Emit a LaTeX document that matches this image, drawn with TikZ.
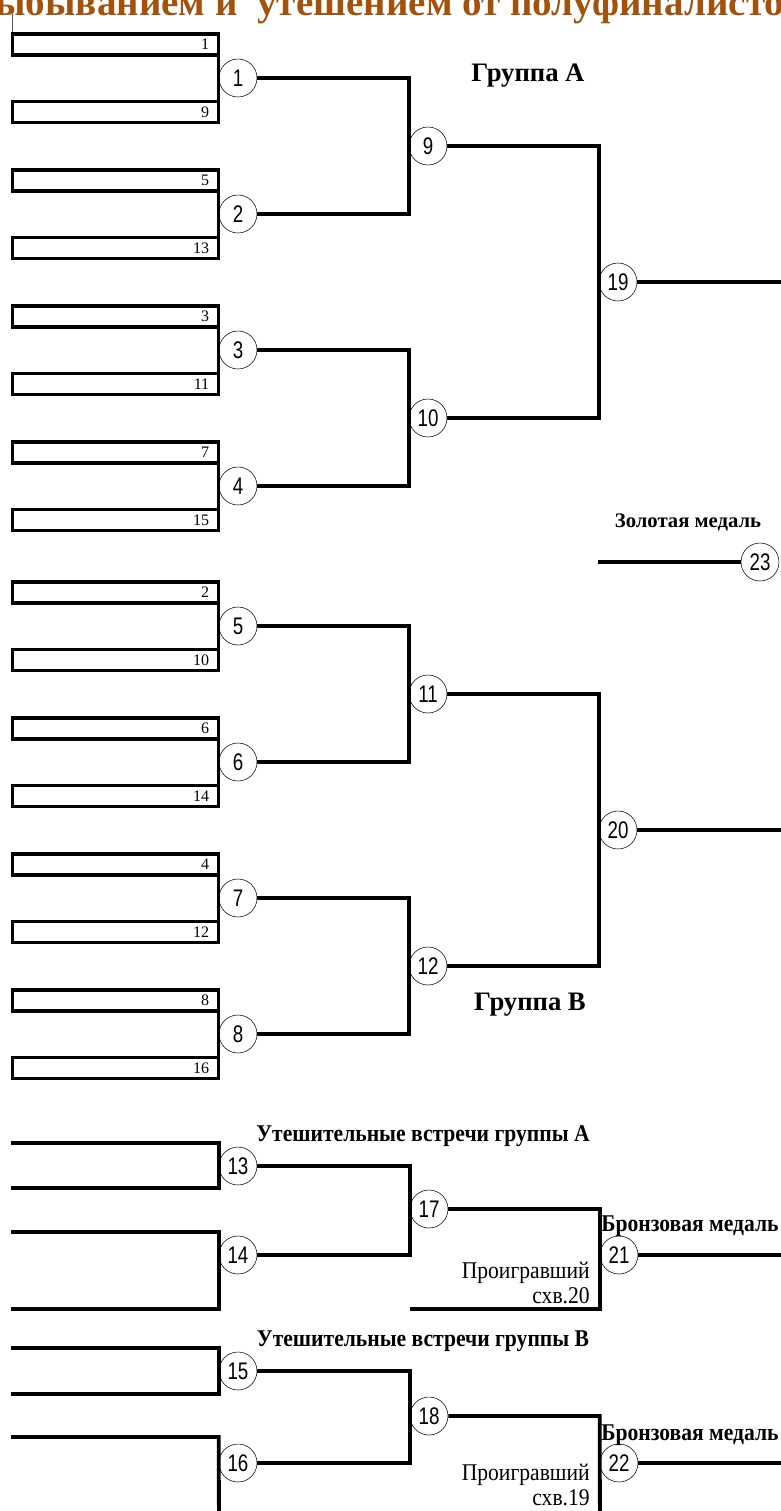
\documentclass[tikz,border=0pt]{standalone}
\usepackage{fontspec}
\setmainfont{Liberation Serif}
\newfontfamily\narrowsans[FakeStretch=0.78]{Liberation Sans}
\newfontfamily\narrowserif[FakeStretch=0.9]{Liberation Serif}
\usetikzlibrary{positioning}
\definecolor{titlebrown}{RGB}{163,82,12}

\begin{document}
\begin{tikzpicture}[x=0.75pt, y=-0.75pt]
		\tikzstyle{Seed}	= [rectangle, draw, line width=2.9pt, outer sep=0pt, minimum height=15.75pt, inner ysep=0pt, inner xsep=7pt, text width=140.5pt, align=right, font=\fontsize{12}{13}\selectfont]
		\tikzstyle{Match}	= [circle, draw, thin, fill=white, minimum size=28.5pt, inner sep=0pt, font=\narrowsans\fontsize{18}{19}\selectfont]
		\tikzstyle{Bar}		= [line width=2.9pt]
		\tikzstyle{Group}	= [font=\bfseries\fontsize{20}{22}\selectfont]
		\tikzstyle{Medal}	= [font=\bfseries\fontsize{15.5}{17}\selectfont]
		\tikzstyle{Caption}	= [font=\narrowserif\bfseries\fontsize{18}{19}\selectfont]
		\tikzstyle{Loser}	= [anchor=base east, inner sep=0pt, font=\narrowserif\fontsize{18}{19}\selectfont]

		\useasboundingbox (0,0) rectangle (781,1511);
		\clip (0,0) rectangle (781,1511);

		\node (title) at (-26, 15) [anchor=base west, inner sep=0pt, text=titlebrown, font=\bfseries\fontsize{29.3}{32}\selectfont] {выбыванием и\ \ утешением от полуфиналистов};

		\node (s1a) at (115.5, 44.5) [Seed] {1};
		\node (s1b) at (115.5, 112) [Seed] {9};
		\node (s2a) at (115.5, 180.5) [Seed] {5};
		\node (s2b) at (115.5, 248) [Seed] {13};
		\node (s3a) at (115.5, 316.5) [Seed] {3};
		\node (s3b) at (115.5, 384) [Seed] {11};
		\node (s4a) at (115.5, 452.5) [Seed] {7};
		\node (s4b) at (115.5, 520) [Seed] {15};
		\node (s5a) at (115.5, 592.5) [Seed] {2};
		\node (s5b) at (115.5, 660) [Seed] {10};
		\node (s6a) at (115.5, 728.5) [Seed] {6};
		\node (s6b) at (115.5, 796) [Seed] {14};
		\node (s7a) at (115.5, 864.5) [Seed] {4};
		\node (s7b) at (115.5, 932) [Seed] {12};
		\node (s8a) at (115.5, 1000.5) [Seed] {8};
		\node (s8b) at (115.5, 1068) [Seed] {16};

		\node (m1) at (238, 78) [Match] {1};
		\node (m2) at (238, 214) [Match] {2};
		\node (m3) at (238, 350) [Match] {3};
		\node (m4) at (238, 486) [Match] {4};
		\node (m5) at (238, 626) [Match] {5};
		\node (m6) at (238, 762) [Match] {6};
		\node (m7) at (238, 898) [Match] {7};
		\node (m8) at (238, 1034) [Match] {8};
		\node (m9) at (428, 146) [Match] {9};
		\node (m10) at (428, 418) [Match] {10};
		\node (m11) at (428, 694) [Match] {11};
		\node (m12) at (428, 966) [Match] {12};
		\node (m19) at (618, 282) [Match] {19};
		\node (m20) at (618, 830) [Match] {20};
		\node (m23) at (760, 562) [Match] {23};

		\node (m13) at (238, 1166) [Match] {13};
		\node (m14) at (238, 1255) [Match] {14};
		\node (m17) at (429, 1209) [Match] {17};
		\node (m21) at (619, 1255) [Match] {21};
		\node (m15) at (238, 1371) [Match] {15};
		\node (m16) at (238, 1463) [Match] {16};
		\node (m18) at (429, 1416) [Match] {18};
		\node (m22) at (619, 1463) [Match] {22};

		\node (ga) at (528, 76) [Group] {Группа А};
		\node (gb) at (530, 1005) [Group] {Группа В};
		\node (gold) at (688, 522) [Medal] {Золотая медаль};
		\node (capa) at (423, 1136) [Caption] {Утешительные встречи группы А};
		\node (capb) at (423, 1341) [Caption] {Утешительные встречи группы В};
		\node (bra) at (690, 1226) [Caption] {Бронзовая медаль};
		\node (brb) at (690, 1435) [Caption] {Бронзовая медаль};
		\node (la1) at (590, 1278) [Loser] {Проигравший};
		\node (la2) at (590, 1303) [Loser] {схв.20};
		\node (lb1) at (590, 1480) [Loser] {Проигравший};
		\node (lb2) at (590, 1505) [Loser] {схв.19};

		\coordinate (tick) at (12.75, 14);
		\coordinate (e19) at (781, 282);
		\coordinate (e20) at (781, 830);
		\coordinate (g0) at (598, 562);
		\coordinate (c13a) at (11, 1143);
		\coordinate (c13b) at (11, 1188);
		\coordinate (c14a) at (11, 1232);
		\coordinate (c14b) at (11, 1309);
		\coordinate (c17b) at (410, 1309);
		\coordinate (e21) at (781, 1255);
		\coordinate (c15a) at (11, 1348);
		\coordinate (c15b) at (11, 1394);
		\coordinate (c16a) at (11, 1437);
		\coordinate (c16b) at (219, 1520);
		\coordinate (c18b) at (600, 1520);
		\coordinate (e22) at (781, 1463);

		\draw [thin] (tick) to (s1a.north west);
		\draw [Bar] (s1a.south east) to (s1b.north east);
		\draw [Bar] (s2a.south east) to (s2b.north east);
		\draw [Bar] (s3a.south east) to (s3b.north east);
		\draw [Bar] (s4a.south east) to (s4b.north east);
		\draw [Bar] (s5a.south east) to (s5b.north east);
		\draw [Bar] (s6a.south east) to (s6b.north east);
		\draw [Bar] (s7a.south east) to (s7b.north east);
		\draw [Bar] (s8a.south east) to (s8b.north east);

		\draw [Bar] (m1) -| (m9.west) |- (m2);
		\draw [Bar] (m3) -| (m10.west) |- (m4);
		\draw [Bar] (m5) -| (m11.west) |- (m6);
		\draw [Bar] (m7) -| (m12.west) |- (m8);
		\draw [Bar] (m9) -| (m19.west) |- (m10);
		\draw [Bar] (m11) -| (m20.west) |- (m12);
		\draw [Bar] (m19) to (e19);
		\draw [Bar] (m20) to (e20);
		\draw [Bar] (g0) to (m23);

		\draw [Bar] (c13a) -| (m13.west) |- (c13b);
		\draw [Bar] (c14a) -| (m14.west) |- (c14b);
		\draw [Bar] (m13) -| (m17.west) |- (m14);
		\draw [Bar] (m17) -| (m21.west) |- (c17b);
		\draw [Bar] (m21) to (e21);
		\draw [Bar] (c15a) -| (m15.west) |- (c15b);
		\draw [Bar] (c16a) -| (m16.west) to (c16b);
		\draw [Bar] (m15) -| (m18.west) |- (m16);
		\draw [Bar] (m18) -| (m22.west) to (c18b);
		\draw [Bar] (m22) to (e22);
\end{tikzpicture}
\end{document}
